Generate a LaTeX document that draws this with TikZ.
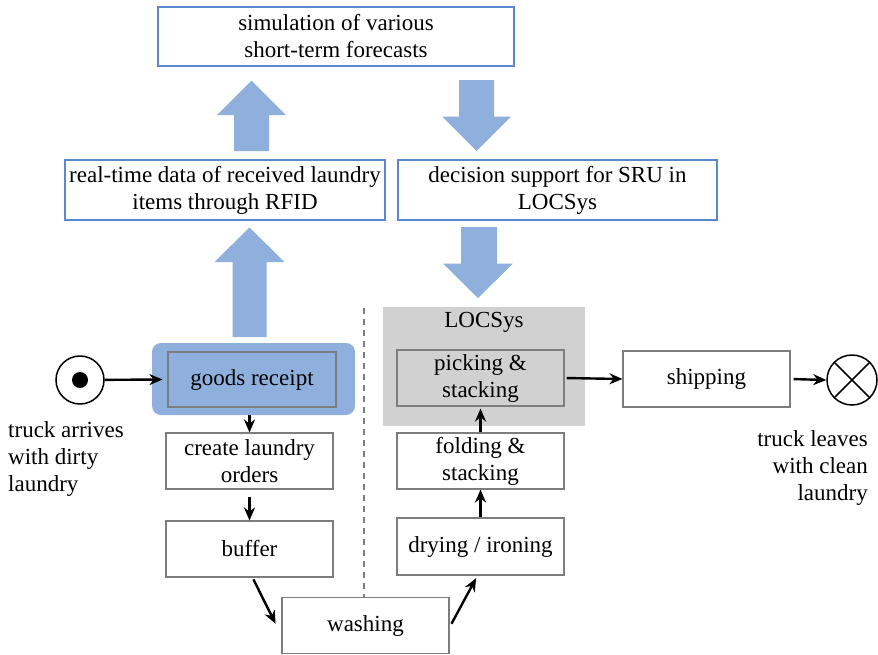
\documentclass[tikz,border=0pt]{standalone}
\usepackage{fontspec}
\setmainfont{LiberationSerif}[Extension=.ttf, UprightFont=*-Regular, BoldFont=*-Bold, ItalicFont=*-Italic, BoldItalicFont=*-BoldItalic]
\usetikzlibrary{arrows.meta}
\definecolor{bluebd}{RGB}{91,135,205}
\definecolor{bluefill}{RGB}{143,176,220}
\definecolor{grayfill}{RGB}{208,209,208}
\definecolor{graybd}{RGB}{125,125,125}
\begin{document}
\begin{tikzpicture}[x=1pt,y=-1pt,
  txt/.style={font=\rmfamily\fontsize{23}{27}\selectfont, align=center, inner sep=0pt},
  bluebox/.style={txt, draw=bluebd, line width=1.2pt, fill=white, minimum height=59pt},
  procbox/.style={txt, draw=graybd, line width=1.1pt, fill=white, minimum width=167pt, minimum height=56pt},
  flow/.style={-{Stealth[length=13pt,width=11pt]}, line width=2.4pt, black},
  blockarrow/.style={fill=bluefill, draw=none},
  eventc/.style={circle, draw=black, line width=1.5pt, minimum size=48pt, inner sep=0pt}]
\useasboundingbox (0,0) rectangle (878,654);

% top boxes
\node[bluebox, minimum width=356pt] (sim) at (336,36.5) {simulation of various\\short-term forecasts};
\node[bluebox, minimum width=320pt, minimum height=60pt] (rt) at (225,190) {real-time data of received laundry\\items through RFID};
\node[bluebox, minimum width=319pt, minimum height=60pt] (ds) at (557.5,190) {decision support for SRU in\\LOCSys};

% block arrows
\fill[blockarrow] (234,151) -- (234,115) -- (217,115) -- (251.5,80.5) -- (286,115) -- (269,115) -- (269,151) -- cycle;
\fill[blockarrow] (459,80) -- (494,80) -- (494,116.5) -- (511,116.5) -- (476.5,151) -- (442,116.5) -- (459,116.5) -- cycle;
\fill[blockarrow] (232.5,337) -- (232.5,262) -- (214.5,262) -- (249.5,227.5) -- (284.5,262) -- (266.5,262) -- (266.5,337) -- cycle;
\fill[blockarrow] (461,227) -- (497,227) -- (497,263.5) -- (513,263.5) -- (478,298) -- (443,263.5) -- (461,263.5) -- cycle;

% LOCSys region
\node[fill=grayfill, minimum width=202pt, minimum height=119pt, inner sep=0pt] (loc) at (484,366.5) {};
\node[txt, anchor=center] (loclabel) at (484,322) {LOCSys};

% dashed divider
\coordinate (dtop) at (364,308);
\coordinate (dbot) at (364,598);
\draw[graybd, line width=1.1pt, dash pattern=on 6pt off 5pt] (dtop) -- (dbot);

% goods receipt
\node[fill=bluefill, rounded corners=9pt, minimum width=203pt, minimum height=72pt, inner sep=0pt] (grout) at (253.5,379) {};
\node[procbox, fill=bluefill, minimum width=168pt, minimum height=55pt] (grin) at (252,379.5) {goods receipt};

% process boxes
\node[procbox] (clo) at (249.5,461) {create laundry\\orders};
\node[procbox] (buf) at (249.5,549) {buffer};
\node[procbox] (wash) at (365.5,625.5) {washing};
\node[procbox, minimum height=57pt] (dry) at (480.5,546.5) {drying / ironing};
\node[procbox] (fold) at (480.5,461) {folding \&\\stacking};
\node[procbox, fill=grayfill] (pick) at (480.5,378) {picking \&\\stacking};
\node[procbox] (ship) at (706.5,379) {shipping};

% start / end events
\node[eventc] (start) at (80,380) {};
\node[circle, fill=black, minimum size=16pt, inner sep=0pt] (startdot) at (start.center) {};
\node[eventc, minimum size=50pt] (end) at (852,380) {};
\draw[line width=1.5pt] (end.north west) -- (end.south east);
\draw[line width=1.5pt] (end.north east) -- (end.south west);

% labels
\node[txt, align=left, anchor=north west] (lblstart) at (8,421) {truck arrives\\with dirty\\laundry};
\node[txt, align=right, anchor=north east] (lblend) at (868,430) {truck leaves\\with clean\\laundry};

% flow arrows
\draw[flow] (start) -- ([xshift=-5pt]grin.west);
\draw[flow] (grout.south -| clo.north) -- (clo.north);
\draw[flow, shorten <=7pt] (clo.south) -- (buf.north);
\draw[flow, shorten <=2pt, shorten >=2pt] ([xshift=3pt]buf.south) -- ([xshift=-5pt]wash.west);
\draw[flow, shorten <=2pt, shorten >=3pt] ([xshift=1pt]wash.east) -- ([xshift=-3pt]dry.south);
\draw[flow] (dry.north) -- (fold.south);
\draw[flow, shorten >=2pt] (fold.north) -- (pick.south);
\draw[flow, shorten <=2pt] (pick.east) -- (ship.west);
\draw[flow, shorten <=3pt] (ship.east) -- (end.west);
\end{tikzpicture}
\end{document}
